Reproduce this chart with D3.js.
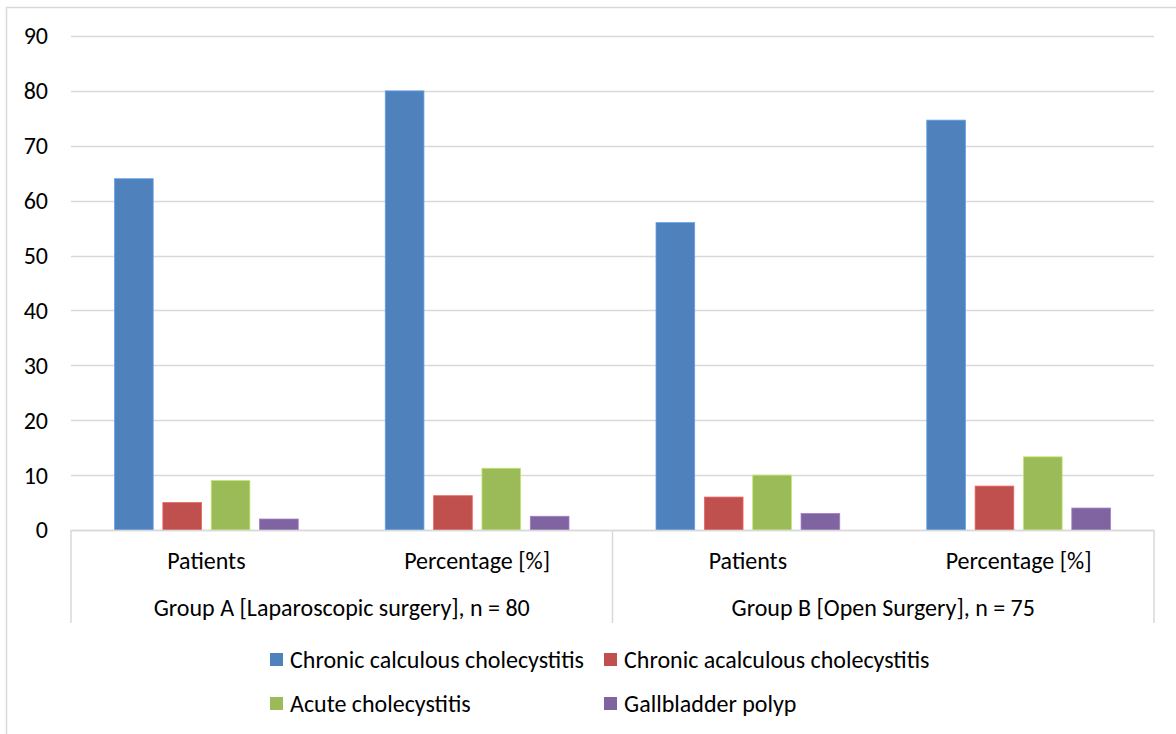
<!DOCTYPE html>
<html>
<head>
<meta charset="utf-8">
<script src="https://cdn.jsdelivr.net/npm/d3@7"></script>
<style>
  body { margin: 0; background: #fff; }
  text { font-family: Carlito, "Open Sans", "Noto Sans", sans-serif; fill: #000; }
</style>
</head>
<body>
<div id="chart"></div>
<script>
const groups = ["Group A [Laparoscopic surgery], n = 80", "Group B [Open Surgery], n = 75"];
const subCategories = ["Patients", "Percentage [%]"];
const series = ["Chronic calculous cholecystitis", "Chronic acalculous cholecystitis", "Acute cholecystitis", "Gallbladder polyp"];
const colors = ["#4F81BD", "#C0504D", "#9BBB59", "#8064A2"];
// values per category, in series order
const groupAPatients = [64, 5, 9, 2];
const groupAPercent = [80, 6.25, 11.25, 2.5];
const groupBPatients = [56, 6, 10, 3];
const groupBPercent = [74.67, 8, 13.33, 4];
const yTicks = [0, 10, 20, 30, 40, 50, 60, 70, 80, 90];

const categories = [
  { group: 0, sub: subCategories[0], values: groupAPatients },
  { group: 0, sub: subCategories[1], values: groupAPercent },
  { group: 1, sub: subCategories[0], values: groupBPatients },
  { group: 1, sub: subCategories[1], values: groupBPercent },
];

const W = 1176, H = 734;
const margin = { left: 71, right: 22, top: 36, bottom: 204 };
const plotW = W - margin.left - margin.right;
const plotH = H - margin.top - margin.bottom;
const fs = 24;

const svg = d3.select("#chart").append("svg")
  .attr("width", W).attr("height", H);

// outer chart border (extends past right/bottom of picture)
svg.append("rect")
  .attr("x", 6.5).attr("y", 7.5)
  .attr("width", W + 20).attr("height", H + 20)
  .attr("fill", "none").attr("stroke", "#D9D9D9").attr("stroke-width", 1.5);

const g = svg.append("g").attr("transform", `translate(${margin.left},${margin.top})`);

const y = d3.scaleLinear([0, 90], [plotH, 0]);
const x0 = d3.scaleBand(d3.range(categories.length), [0, plotW]);
const x1 = d3.scaleBand(d3.range(series.length), [0, x0.bandwidth()])
  .paddingInner(0.2).paddingOuter(0.9);

// gridlines
g.append("g").selectAll("line")
  .data(yTicks)
  .join("line")
  .attr("x1", 0).attr("x2", plotW)
  .attr("y1", d => Math.round(y(d)) + 0.5).attr("y2", d => Math.round(y(d)) + 0.5)
  .attr("stroke", "#D9D9D9").attr("stroke-width", 1.5);

// y labels
g.append("g").selectAll("text")
  .data(yTicks)
  .join("text")
  .attr("x", -23).attr("y", d => y(d))
  .attr("dy", "0.35em")
  .attr("text-anchor", "end")
  .attr("font-size", fs)
  .text(d => d);

// bars
const cat = g.append("g").selectAll("g")
  .data(categories)
  .join("g")
  .attr("transform", (d, i) => `translate(${x0(i)},0)`);

cat.selectAll("rect")
  .data(d => d.values)
  .join("rect")
  .attr("x", (d, i) => x1(i))
  .attr("y", d => y(d))
  .attr("width", x1.bandwidth())
  .attr("height", d => y(0) - y(d))
  .attr("fill", (d, i) => colors[i])
  .attr("stroke", (d, i) => d3.color(colors[i]).brighter(0.6))
  .attr("stroke-width", 0.8);

// category axis lines
const axisY = plotH;
g.append("line")
  .attr("x1", 0).attr("x2", plotW)
  .attr("y1", axisY + 0.5).attr("y2", axisY + 0.5)
  .attr("stroke", "#D9D9D9").attr("stroke-width", 1.5);

const sepBottom = 587;
const seps = [0, plotW / 2, plotW];
g.append("g").selectAll("line")
  .data(seps)
  .join("line")
  .attr("x1", d => d).attr("x2", d => d)
  .attr("y1", axisY).attr("y2", sepBottom)
  .attr("stroke", "#D9D9D9").attr("stroke-width", 1.5);

// sub category labels
g.append("g").selectAll("text")
  .data(categories)
  .join("text")
  .attr("x", (d, i) => x0(i) + x0.bandwidth() / 2)
  .attr("y", axisY + 31)
  .attr("dy", "0.35em")
  .attr("text-anchor", "middle")
  .attr("font-size", fs)
  .text(d => d.sub);

// group labels
g.append("g").selectAll("text")
  .data(groups)
  .join("text")
  .attr("x", (d, i) => i * plotW / 2 + plotW / 4)
  .attr("y", axisY + 78)
  .attr("dy", "0.35em")
  .attr("text-anchor", "middle")
  .attr("font-size", fs)
  .text(d => d);

// legend
const legendPos = [
  { x: 270, y: 660 }, { x: 604, y: 660 },
  { x: 270, y: 704 }, { x: 604, y: 704 },
];
const leg = svg.append("g").selectAll("g")
  .data(series)
  .join("g")
  .attr("transform", (d, i) => `translate(${legendPos[i].x},${legendPos[i].y})`);
leg.append("rect")
  .attr("x", 0).attr("y", -7)
  .attr("width", 13).attr("height", 13)
  .attr("fill", (d, i) => colors[i]);
leg.append("text")
  .attr("x", 20).attr("y", 0)
  .attr("dy", "0.35em")
  .attr("font-size", fs)
  .text(d => d);
</script>
</body>
</html>
